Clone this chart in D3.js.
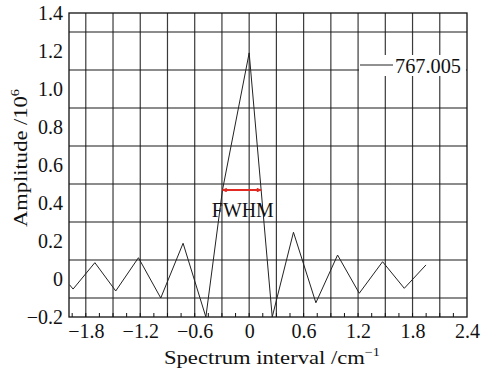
<!DOCTYPE html>
<html><head><meta charset="utf-8">
<script src="https://cdn.jsdelivr.net/npm/d3@7"></script>
<style>html,body{margin:0;padding:0;background:#fff;}svg{display:block;}
svg text{font-family:"Liberation Serif","DejaVu Serif",serif !important;}</style>
</head><body>
<svg id="chart" width="498" height="373"></svg>
<script>
// ---- data ----
const xTicks = [-1.8, -1.2, -0.6, 0, 0.6, 1.2, 1.8, 2.4];
const xTickLabels = ["\u22121.8", "\u22121.2", "\u22120.6", "0", "0.6", "1.2", "1.8", "2.4"];
const yTicks = [-0.2, 0, 0.2, 0.4, 0.6, 0.8, 1.0, 1.2, 1.4];
const yTickLabels = ["\u22120.2", "0", "0.2", "0.4", "0.6", "0.8", "1.0", "1.2", "1.4"];
const xGrid = [-1.8, -1.5, -1.2, -0.9, -0.6, -0.3, 0, 0.3, 0.6, 0.9, 1.2, 1.5, 1.8, 2.1];
const yGrid = [-0.1, 0.1, 0.3, 0.5, 0.7, 0.9, 1.1, 1.3];
const xMinor = d3.range(-1.95, 2.4, 0.15);
const interval = [-1.98, -1.94, -1.70, -1.47, -1.22, -0.974, -0.728, -0.477, -0.294, 0, 0.254, 0.488, 0.735, 0.974, 1.213, 1.47, 1.709, 1.948];
const amplitude = [-0.03, -0.053, 0.086, -0.063, 0.112, -0.10, 0.188, -0.2, 0.468, 1.19, -0.2, 0.246, -0.125, 0.126, -0.075, 0.091, -0.049, 0.074];
const seriesName = "767.005";
const fwhmStart = -0.294, fwhmEnd = 0.132, fwhmLevel = 0.468;
const fwhmLabel = "FWHM";

// ---- layout ----
const L = 69, R = 467, T = 13, B = 317;
const x = d3.scaleLinear().domain([-1.985, 2.4]).range([L, R]);
const y = d3.scaleLinear().domain([-0.2, 1.4]).range([B, T]);
const svg = d3.select("#chart");

const defs = svg.append("defs");
defs.append("clipPath").attr("id", "clip").append("rect")
  .attr("x", L).attr("y", T).attr("width", R - L).attr("height", B - T);
["start", "end"].forEach(k => {
  defs.append("marker").attr("id", "arr-" + k)
    .attr("viewBox", "0 0 10 10").attr("refX", 9).attr("refY", 5)
    .attr("markerWidth", 3.2).attr("markerHeight", 2.4).attr("orient", "auto-start-reverse")
    .attr("markerUnits", "strokeWidth")
    .append("path").attr("d", "M0,0L10,5L0,10Z").attr("fill", "#e32a22");
});

// grid
svg.append("g").selectAll("line").data(xGrid).join("line")
  .attr("x1", d => x(d)).attr("x2", d => x(d)).attr("y1", T).attr("y2", B)
  .attr("stroke", "#3a3a3a").attr("stroke-width", 1.2);
svg.append("g").selectAll("line").data(yGrid).join("line")
  .attr("x1", L).attr("x2", R).attr("y1", d => y(d)).attr("y2", d => y(d))
  .attr("stroke", "#1a1a1a").attr("stroke-width", 1.2);

// minor ticks on bottom axis
svg.append("g").selectAll("line").data(xMinor).join("line")
  .attr("x1", d => x(d)).attr("x2", d => x(d)).attr("y1", B).attr("y2", B - 4)
  .attr("stroke", "#111").attr("stroke-width", 1);

// frame
svg.append("rect").attr("x", L).attr("y", T).attr("width", R - L).attr("height", B - T)
  .attr("fill", "none").attr("stroke", "#111").attr("stroke-width", 1.3);

// axes labels via d3 axes
const xAxis = d3.axisBottom(x).tickValues(xTicks).tickSize(0).tickPadding(7)
  .tickFormat((d, i) => xTickLabels[i]);
const gx = svg.append("g").attr("transform", `translate(0,${B})`).call(xAxis);
gx.select(".domain").remove();
gx.selectAll("text").attr("font-size", 20).attr("fill", "#111").attr("dy", "0.71em");

const yAxis = d3.axisLeft(y).tickValues(yTicks).tickSize(0).tickPadding(6)
  .tickFormat((d, i) => yTickLabels[i]);
const gy = svg.append("g").attr("transform", `translate(${L},0)`).call(yAxis);
gy.select(".domain").remove();
gy.selectAll("text").attr("font-size", 20).attr("fill", "#111");

// data line
const pts = interval.map((v, i) => [v, amplitude[i]]);
svg.append("path").datum(pts).attr("clip-path", "url(#clip)")
  .attr("d", d3.line().x(d => x(d[0])).y(d => y(d[1])))
  .attr("fill", "none").attr("stroke", "#222").attr("stroke-width", 1);

// FWHM arrow
svg.append("line").attr("x1", x(fwhmStart)).attr("x2", x(fwhmEnd))
  .attr("y1", y(fwhmLevel)).attr("y2", y(fwhmLevel))
  .attr("stroke", "#e32a22").attr("stroke-width", 2)
  .attr("marker-start", "url(#arr-start)").attr("marker-end", "url(#arr-end)");
svg.append("text").attr("x", x((fwhmStart + fwhmEnd) / 2) + 1).attr("y", y(fwhmLevel) + 27)
  .attr("text-anchor", "middle").attr("font-size", 20)
  .attr("textLength", 62).attr("lengthAdjust", "spacingAndGlyphs")
  .attr("fill", "#111").text(fwhmLabel);

// legend
svg.append("rect").attr("x", 359).attr("y", 55).attr("width", 107).attr("height", 21).attr("fill", "#fff");
svg.append("line").attr("x1", 360).attr("x2", 393).attr("y1", 65).attr("y2", 65)
  .attr("stroke", "#222").attr("stroke-width", 1);
svg.append("text").attr("x", 395).attr("y", 72.5).attr("font-size", 20)
  .attr("textLength", 66).attr("lengthAdjust", "spacingAndGlyphs")
  .attr("fill", "#111").text(seriesName);

// axis titles
const xt = svg.append("text").attr("x", 272).attr("y", 364).attr("text-anchor", "middle")
  .attr("font-size", 19).attr("fill", "#111")
  .attr("textLength", 216).attr("lengthAdjust", "spacingAndGlyphs");
xt.append("tspan").text("Spectrum interval /cm");
xt.append("tspan").attr("font-size", 12).attr("dy", -8).text("\u22121");

const yt = svg.append("text").attr("transform", "translate(27,158) rotate(-90)")
  .attr("text-anchor", "middle").attr("font-size", 19).attr("fill", "#111")
  .attr("textLength", 138).attr("lengthAdjust", "spacingAndGlyphs");
yt.append("tspan").text("Amplitude /10");
yt.append("tspan").attr("font-size", 12).attr("dy", -8).text("6");
</script>
</body></html>
